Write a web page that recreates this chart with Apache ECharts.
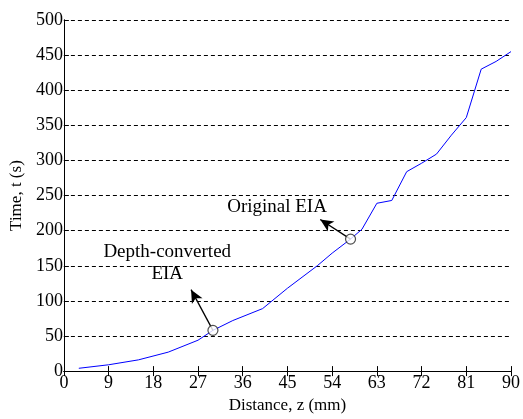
<!DOCTYPE html>
<html>
<head>
<meta charset="utf-8">
<script src="https://cdn.jsdelivr.net/npm/echarts@6/dist/echarts.min.js"></script>
<style>
  html, body { margin: 0; padding: 0; background: #fff; }
  #main { width: 523px; height: 419px; }
</style>
</head>
<body>
<div id="main"></div>
<script>
// distance z (mm) and time t (s)
var distance = [3, 9, 15, 21, 27, 30, 34, 40, 45, 51, 54, 57.7, 60, 63, 66, 69, 72, 75, 78, 81, 84, 87, 90];
var time = [4, 9, 16, 27, 44, 58, 72, 89, 118, 150, 168, 188, 202, 239, 243, 284, 296, 309, 336, 361, 430, 441, 455];
var xTicks = [0, 9, 18, 27, 36, 45, 54, 63, 72, 81, 90];
var yTicks = [0, 50, 100, 150, 200, 250, 300, 350, 400, 450, 500];

// annotated points, arrow tips and label anchors in data units
var markedPoints = [[30, 58], [57.7, 188]];
var arrowTips = [[25.6, 116], [51.6, 216]];
var noteText = ['Depth-converted\nEIA', 'Original EIA'];
var notePos = [[20.8, 154], [42.9, 233]];

var font = 'Liberation Serif, Times New Roman, serif';
var chart = echarts.init(document.getElementById('main'));

var series = [{
    type: 'line',
    data: distance.map(function (d, i) { return [d, time[i]]; }),
    symbol: 'none',
    lineStyle: { color: '#0000ff', width: 1 },
    animation: false,
    markLine: {
        silent: true,
        animation: false,
        symbol: ['none', 'arrow'],
        symbolSize: [9, 13],
        lineStyle: { color: '#000', width: 1.3, type: 'solid' },
        label: { show: false },
        data: markedPoints.map(function (p, i) {
            return [{ coord: p }, { coord: arrowTips[i] }];
        })
    },
    markPoint: {
        silent: true,
        animation: false,
        symbol: 'circle',
        symbolSize: 0,
        label: {
            show: true,
            color: '#000',
            fontFamily: font,
            fontSize: 19,
            lineHeight: 22,
            align: 'center',
            verticalAlign: 'middle',
            formatter: function (p) { return p.name; }
        },
        data: noteText.map(function (t, i) {
            return { name: t, coord: notePos[i] };
        })
    }
}, {
    type: 'scatter',
    data: markedPoints,
    symbol: 'circle',
    symbolSize: 10,
    z: 5,
    itemStyle: { color: '#fff', borderColor: '#222', borderWidth: 1.2 },
    animation: false
}];

chart.setOption({
    animation: false,
    backgroundColor: '#fff',
    grid: { left: 59, right: 10, top: 20, bottom: 38 },
    xAxis: [{
        type: 'value',
        min: 0, max: 90, interval: 9,
        name: 'Distance, z (mm)',
        nameLocation: 'middle',
        nameGap: 22,
        nameTextStyle: { color: '#000', fontFamily: font, fontSize: 17 },
        axisLine: { show: true, lineStyle: { color: '#000', width: 1 } },
        axisTick: { show: true, inside: true, length: 5, lineStyle: { color: '#000' } },
        axisLabel: { color: '#000', fontFamily: font, fontSize: 18, margin: 3 },
        splitLine: { show: false }
    }, {
        type: 'value',
        position: 'top',
        min: 0, max: 90, interval: 9,
        axisLine: { show: true, lineStyle: { color: '#000', width: 1 } },
        axisTick: { show: true, inside: true, length: 5, lineStyle: { color: '#000' } },
        axisLabel: { show: false },
        splitLine: { show: false }
    }],
    yAxis: [{
        type: 'value',
        min: 0, max: 500, interval: 50,
        name: 'Time, t (s)',
        nameLocation: 'middle',
        nameGap: 37,
        nameTextStyle: { color: '#000', fontFamily: font, fontSize: 17 },
        axisLine: { show: true, lineStyle: { color: '#000', width: 1 } },
        axisTick: { show: true, inside: true, length: 5, lineStyle: { color: '#000' } },
        axisLabel: { color: '#000', fontFamily: font, fontSize: 18, margin: 1 },
        splitLine: { show: true, lineStyle: { color: '#000', width: 1, type: [4, 3] } }
    }, {
        type: 'value',
        position: 'right',
        min: 0, max: 500, interval: 50,
        axisLine: { show: true, lineStyle: { color: '#000', width: 1 } },
        axisTick: { show: false },
        axisLabel: { show: false },
        splitLine: { show: false }
    }],
    series: series
});
</script>
</body>
</html>
